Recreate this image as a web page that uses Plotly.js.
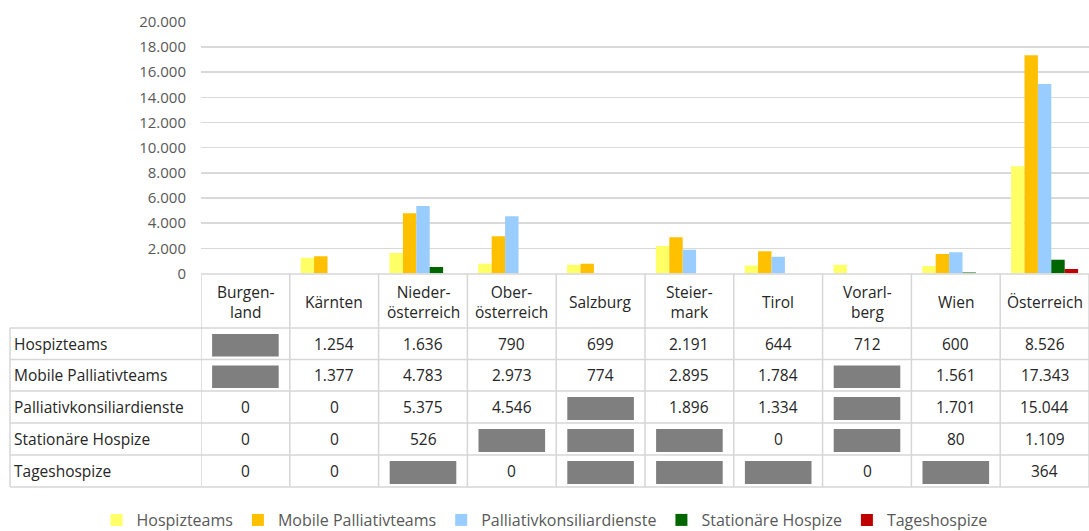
<!DOCTYPE html>
<html>
<head>
<meta charset="utf-8">
<script src="https://cdn.plot.ly/plotly-3.0.1.min.js"></script>
<style>
  html, body { margin: 0; padding: 0; background: #fff; }
  #chart { width: 1089px; height: 531px; }
</style>
</head>
<body>
<div id="chart"></div>
<script>
// Daten
const regions = ['Burgenland', 'Kärnten', 'Niederösterreich', 'Oberösterreich', 'Salzburg',
                 'Steiermark', 'Tirol', 'Vorarlberg', 'Wien', 'Österreich'];
const headerLabels = ['Burgen-<br>land', 'Kärnten', 'Nieder-<br>österreich', 'Ober-<br>österreich', 'Salzburg',
                      'Steier-<br>mark', 'Tirol', 'Vorarl-<br>berg', 'Wien', 'Österreich'];
const seriesNames = ['Hospizteams', 'Mobile Palliativteams', 'Palliativkonsiliardienste',
                     'Stationäre Hospize', 'Tageshospize'];
// null = Angebot nicht vorhanden (graues Feld)
const hospizteams   = [null, 1254, 1636, 790, 699, 2191, 644, 712, 600, 8526];
const mobilePT      = [null, 1377, 4783, 2973, 774, 2895, 1784, null, 1561, 17343];
const palliativKD   = [0, 0, 5375, 4546, null, 1896, 1334, null, 1701, 15044];
const stationaerHos = [0, 0, 526, null, null, null, 0, null, 80, 1109];
const tageshospize  = [0, 0, null, 0, null, null, null, 0, null, 364];
const yTicks = [0, 2000, 4000, 6000, 8000, 10000, 12000, 14000, 16000, 18000, 20000];

const seriesData = [hospizteams, mobilePT, palliativKD, stationaerHos, tageshospize];
const colors = ['#ffff66', '#ffc000', '#99ccff', '#006600', '#c00000'];

const W = 1089, H = 531;
const px = x => x / W;          // pixel -> paper x
const py = y => 1 - y / H;      // pixel -> paper y

// table geometry (pixels)
const tableLeft = 10, colStart = 201, tableRight = 1089;
const headerTop = 274;
const rowLines = [328, 359.5, 391, 423, 455, 487];
const lineCol = '#d6d6d6';
const fontFam = '"Open Sans", "Noto Sans", sans-serif';
const textCol = '#262626';
const tblSize = 15.5;

function fmt(v) {
    return String(v).replace(/\B(?=(\d{3})+(?!\d))/g, '.');
}

let traces = [];
for (let i = 0; i < seriesNames.length; i++) {
    traces.push({
        type: 'bar',
        name: seriesNames[i],
        x: regions,
        y: seriesData[i],
        marker: { color: colors[i] },
        hoverinfo: 'x+y+name'
    });
}

let shapes = [];
let annotations = [];

// horizontal lines
shapes.push({ type: 'line', xref: 'paper', yref: 'paper', x0: px(colStart), x1: px(tableRight),
              y0: py(headerTop), y1: py(headerTop), line: { color: lineCol, width: 1.5 } });
rowLines.forEach(function (ly) {
    shapes.push({ type: 'line', xref: 'paper', yref: 'paper', x0: px(tableLeft), x1: px(tableRight),
                  y0: py(ly), y1: py(ly), line: { color: lineCol, width: 1.5 } });
});
// vertical lines
shapes.push({ type: 'line', xref: 'paper', yref: 'paper', x0: px(tableLeft), x1: px(tableLeft),
              y0: py(rowLines[0]), y1: py(rowLines[5]), line: { color: lineCol, width: 1.5 } });
for (let c = 0; c <= regions.length; c++) {
    shapes.push({ type: 'line', xref: 'x', yref: 'paper', x0: c - 0.5, x1: c - 0.5,
                  y0: py(headerTop), y1: py(rowLines[5]), line: { color: lineCol, width: 1.5 } });
}

// header
for (let c = 0; c < regions.length; c++) {
    annotations.push({ xref: 'x', yref: 'paper', x: c, y: py((headerTop + rowLines[0]) / 2 + 1),
                       xanchor: 'center', yanchor: 'middle',
                       text: headerLabels[c], showarrow: false, align: 'center',
                       font: { family: fontFam, size: tblSize, color: textCol } });
}

// rows
for (let r = 0; r < seriesNames.length; r++) {
    const top = rowLines[r], bot = rowLines[r + 1];
    const mid = (top + bot) / 2;
    annotations.push({ xref: 'paper', yref: 'paper', x: px(tableLeft + 2), y: py(mid),
                       xanchor: 'left', yanchor: 'middle', text: seriesNames[r], showarrow: false,
                       font: { family: fontFam, size: tblSize, color: textCol } });
    for (let c = 0; c < regions.length; c++) {
        const v = seriesData[r][c];
        if (v === null) {
            shapes.push({ type: 'rect', xref: 'x', yref: 'paper', x0: c - 0.375, x1: c + 0.375,
                          y0: py(bot - 3), y1: py(top + 6), fillcolor: '#7f7f7f',
                          line: { width: 0 } });
        } else {
            annotations.push({ xref: 'x', yref: 'paper', x: c, y: py(mid), text: fmt(v),
                               xanchor: 'center', yanchor: 'middle', showarrow: false,
                               font: { family: fontFam, size: tblSize, color: textCol } });
        }
    }
}

const layout = {
    width: W,
    height: H,
    margin: { l: 0, r: 0, t: 0, b: 0, autoexpand: false },
    paper_bgcolor: '#ffffff',
    plot_bgcolor: '#ffffff',
    separators: ',.',
    barmode: 'group',
    bargap: 0.245,
    bargroupgap: 0,
    font: { family: fontFam, size: 15, color: '#595959' },
    xaxis: {
        type: 'category',
        domain: [px(colStart), 1],
        range: [-0.5, 9.5],
        showticklabels: false,
        showgrid: false,
        zeroline: false,
        showline: false,
        fixedrange: true
    },
    yaxis: {
        domain: [py(273.6), py(21.7)],
        range: [0, 20000],
        tickvals: yTicks,
        tickformat: ',d',
        tickfont: { family: fontFam, size: 15, color: '#595959' },
        ticklabelstandoff: 14,
        showgrid: true,
        gridcolor: '#d9d9d9',
        gridwidth: 1.5,
        zeroline: false,
        showline: false,
        fixedrange: true
    },
    showlegend: true,
    legend: {
        orientation: 'h',
        x: 0.5,
        xanchor: 'center',
        y: py(520),
        yanchor: 'middle',
        font: { family: fontFam, size: 16, color: '#595959' },
        itemclick: false
    },
    shapes: shapes,
    annotations: annotations
};

Plotly.newPlot('chart', traces, layout, { displayModeBar: false, staticPlot: true });
</script>
</body>
</html>
